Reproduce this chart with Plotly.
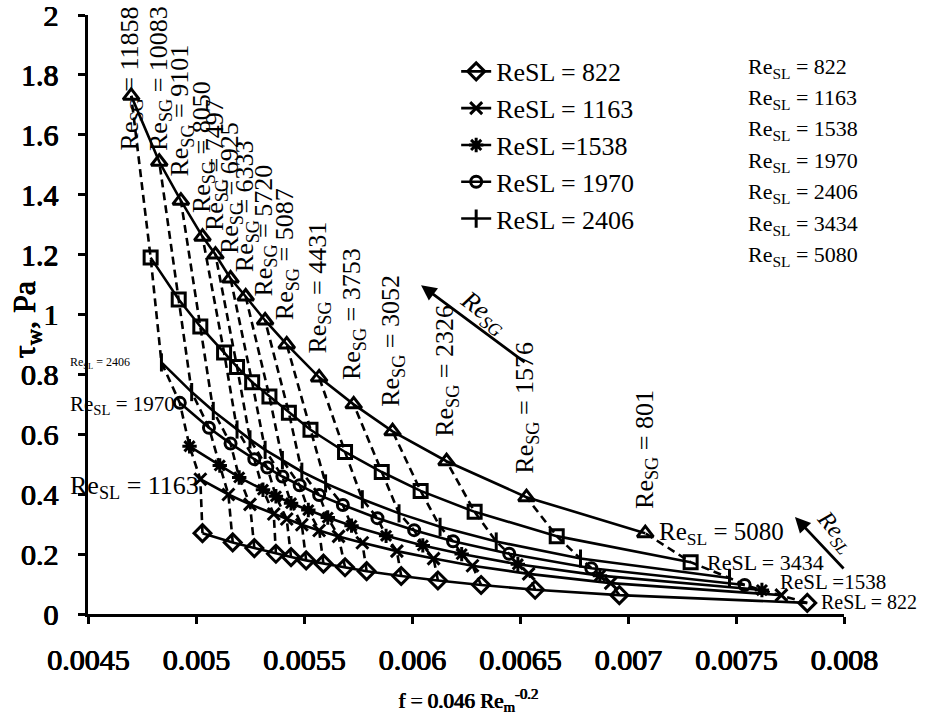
import plotly.graph_objects as go

# ---------------- data ----------------
resg = [11858, 10083, 9101, 8050, 7497, 6925, 6333, 5720, 5087, 4431, 3753, 3052, 2326, 1576, 801]

f_822 = [0.00503, 0.00517, 0.00527, 0.00537, 0.00544, 0.00551, 0.00559, 0.00569, 0.00579, 0.00595, 0.00612, 0.00632, 0.00657, 0.00696, 0.00783]
t_822 = [0.27, 0.239, 0.220, 0.201, 0.190, 0.179, 0.168, 0.156, 0.143, 0.127, 0.112, 0.097, 0.081, 0.063, 0.037]

f_1163 = [0.00502, 0.00515, 0.00525, 0.00536, 0.00542, 0.00549, 0.00557, 0.00566, 0.00577, 0.00593, 0.00610, 0.00628, 0.00654, 0.00692, 0.00771]
t_1163 = [0.45, 0.399, 0.366, 0.334, 0.317, 0.298, 0.279, 0.259, 0.238, 0.210, 0.185, 0.161, 0.134, 0.103, 0.063]

f_1538 = [0.00497, 0.00511, 0.00520, 0.00531, 0.00537, 0.00544, 0.00552, 0.00561, 0.00572, 0.00588, 0.00605, 0.00623, 0.00649, 0.00687, 0.00762]
t_1538 = [0.56, 0.496, 0.456, 0.415, 0.393, 0.370, 0.347, 0.322, 0.295, 0.261, 0.229, 0.200, 0.166, 0.128, 0.080]

f_1970 = [0.004925, 0.00506, 0.00516, 0.00527, 0.00533, 0.00540, 0.00548, 0.00557, 0.00568, 0.00584, 0.00601, 0.00619, 0.00645, 0.00683, 0.00754]
t_1970 = [0.705, 0.622, 0.569, 0.517, 0.489, 0.459, 0.430, 0.397, 0.364, 0.320, 0.280, 0.243, 0.201, 0.153, 0.097]

f_2406 = [0.00484, 0.00498, 0.00508, 0.00519, 0.00525, 0.00532, 0.00540, 0.00549, 0.00560, 0.00577, 0.00594, 0.00613, 0.00639, 0.00678, 0.00747]
t_2406 = [0.84, 0.741, 0.678, 0.616, 0.583, 0.548, 0.514, 0.475, 0.436, 0.383, 0.336, 0.291, 0.242, 0.185, 0.120]

f_3434 = [0.00479, 0.00492, 0.00502, 0.00513, 0.00519, 0.00526, 0.00534, 0.00543, 0.00553, 0.00569, 0.00586, 0.00604, 0.00629, 0.00667, 0.00729]
t_3434 = [1.19, 1.050, 0.960, 0.873, 0.825, 0.774, 0.726, 0.672, 0.615, 0.541, 0.474, 0.411, 0.341, 0.260, 0.173]

f_5080 = [0.00470, 0.00483, 0.00493, 0.00503, 0.00509, 0.00516, 0.00523, 0.00532, 0.00542, 0.00557, 0.00573, 0.00591, 0.00616, 0.00653, 0.00708]
t_5080 = [1.73, 1.51, 1.38, 1.26, 1.20, 1.12, 1.06, 0.98, 0.90, 0.79, 0.70, 0.61, 0.51, 0.39, 0.27]

x_ticks = [0.0045, 0.005, 0.0055, 0.006, 0.0065, 0.007, 0.0075, 0.008]
x_tick_text = ["0.0045", "0.005", "0.0055", "0.006", "0.0065", "0.007", "0.0075", "0.008"]
y_ticks = [0, 0.2, 0.4, 0.6, 0.8, 1, 1.2, 1.4, 1.6, 1.8, 2]
y_tick_text = ["0", "0.2", "0.4", "0.6", "0.8", "1", "1.2", "1.4", "1.6", "1.8", "2"]

right_list = ["822", "1163", "1538", "1970", "2406", "3434", "5080"]

curves = [
    ("ReSL = 822", f_822, t_822, "diamond-open", 13, True),
    ("ReSL = 1163", f_1163, t_1163, "x-thin-open", 12, True),
    ("ReSL =1538", f_1538, t_1538, "asterisk-open", 12, True),
    ("ReSL = 1970", f_1970, t_1970, "circle-open", 11, True),
    ("ReSL = 2406", f_2406, t_2406, "line-ns-open", 13, True),
    ("ReSL = 3434", f_3434, t_3434, "square-open", 13, False),
    ("ReSL = 5080", f_5080, t_5080, "triangle-up-open", 14, False),
]

SERIF = "Liberation Serif"
# heavier strokes for the bold Times-like texts
BOLD_SHADOW = "0.5px 0px 0px black, 1px 0px 0px black, 0.5px 0.4px 0px black"

fig = go.Figure()

# dashed constant-ReSG lines
for i, g in enumerate(resg):
    fig.add_trace(go.Scatter(
        x=[c[1][i] for c in curves], y=[c[2][i] for c in curves],
        mode="lines", line=dict(color="black", width=2.6, dash="8px,5px"),
        showlegend=False, hoverinfo="skip"))

for name, fx, ty, sym, sz, leg in curves:
    fig.add_trace(go.Scatter(
        x=fx, y=ty, mode="lines+markers", name=name, showlegend=leg,
        line=dict(color="black", width=2.6),
        marker=dict(symbol=sym, size=sz, color="black", line=dict(color="black", width=3)),
        cliponaxis=False))

ann = []
# ReSG labels above the ReSL = 5080 points (the two top ones pushed inside the chart)
for i, g in enumerate(resg):
    a = dict(x=f_5080[i], y=t_5080[i], xref="x", yref="y",
             text=f"Re<sub>SG</sub> = {g}", textangle=-90, showarrow=False,
             xanchor="center", yanchor="bottom", yshift=22,
             font=dict(family=SERIF, size=26, color="black"))
    if i < 2:
        a.update(yref="paper", y=1.018, yanchor="top", yshift=0)
    ann.append(a)

# labels at curve ends
ann.append(dict(x=f_5080[-1], y=t_5080[-1], xref="x", yref="y", text="Re<sub>SL</sub> = 5080",
                showarrow=False, xanchor="left", yanchor="middle", xshift=12,
                font=dict(family=SERIF, size=25, color="black")))
ann.append(dict(x=f_3434[-1], y=t_3434[-1], xref="x", yref="y", text="ReSL = 3434",
                showarrow=False, xanchor="left", yanchor="middle", xshift=14,
                font=dict(family=SERIF, size=22, color="black")))
ann.append(dict(x=f_1538[-1], y=t_1538[-1], xref="x", yref="y", text="ReSL =1538",
                showarrow=False, xanchor="left", yanchor="middle", xshift=16, yshift=8,
                font=dict(family=SERIF, size=21, color="black")))
ann.append(dict(x=f_822[-1], y=t_822[-1], xref="x", yref="y", text="ReSL = 822",
                showarrow=False, xanchor="left", yanchor="middle", xshift=12, yshift=1,
                font=dict(family=SERIF, size=20, color="black")))

# left labels (outside the plot, left aligned)
ann.append(dict(x=-0.026, y=0.419, xref="paper", yref="paper", text="Re<sub>SL</sub> = 2406",
                showarrow=False, xanchor="left", yanchor="middle",
                font=dict(family=SERIF, size=12, color="black")))
ann.append(dict(x=-0.026, y=0.349, xref="paper", yref="paper", text="Re<sub>SL</sub> = 1970",
                showarrow=False, xanchor="left", yanchor="middle",
                font=dict(family=SERIF, size=21, color="black")))
ann.append(dict(x=-0.026, y=0.212, xref="paper", yref="paper", text="Re<sub>SL</sub> = 1163",
                showarrow=False, xanchor="left", yanchor="middle",
                font=dict(family=SERIF, size=26, color="black")))

# right list
for k, v in enumerate(right_list):
    ann.append(dict(x=0.871, y=0.912 - k * 0.0524, xref="paper", yref="paper",
                    text=f"Re<sub>SL</sub> = {v}", showarrow=False, xanchor="left", yanchor="middle",
                    font=dict(family=SERIF, size=22, color="black")))

# arrows
ann.append(dict(x=0.006042, y=1.098, xref="x", yref="y", ax=105, ay=78, text="",
                showarrow=True, arrowhead=2, arrowsize=1.1, arrowwidth=2.8, arrowcolor="black"))
ann.append(dict(x=0.006333, y=1.005, xref="x", yref="y", text="<i>Re<sub>SG</sub></i>", textangle=37,
                showarrow=False, xanchor="center", yanchor="middle",
                font=dict(family=SERIF, size=26, color="black")))
ann.append(dict(x=0.007773, y=0.324, xref="x", yref="y", ax=50, ay=53, text="",
                showarrow=True, arrowhead=2, arrowsize=1.1, arrowwidth=2.8, arrowcolor="black"))
ann.append(dict(x=0.988, y=0.137, xref="paper", yref="paper", text="<i>Re<sub>SL</sub></i>", textangle=50,
                showarrow=False, xanchor="center", yanchor="middle",
                font=dict(family=SERIF, size=24, color="black")))

# axis titles
ann.append(dict(x=-0.081, y=0.491, xref="paper", yref="paper", text="τ<sub>w</sub>, Pa",
                textangle=-90, showarrow=False, xanchor="center", yanchor="middle",
                font=dict(family=SERIF, size=32, color="black", shadow=BOLD_SHADOW)))
ann.append(dict(x=0.502, y=-0.144, xref="paper", yref="paper",
                text="f = 0.046 Re<sub>m</sub><sup>-0.2</sup>",
                showarrow=False, xanchor="center", yanchor="middle",
                font=dict(family=SERIF, size=21, color="black",
                          shadow="0.5px 0px 0px black, 0.9px 0px 0px black")))

fig.update_layout(
    width=931, height=724, paper_bgcolor="white", plot_bgcolor="white",
    margin=dict(l=88, r=87, t=15, b=110, autoexpand=False),
    showlegend=True,
    legend=dict(x=0.487, y=0.945, xanchor="left", yanchor="top", bgcolor="rgba(0,0,0,0)",
                font=dict(family=SERIF, size=26, color="black"), tracegroupgap=0),
    annotations=ann,
    font=dict(family=SERIF, color="black"),
)
fig.update_xaxes(range=[0.0045, 0.008], tickvals=x_ticks, ticktext=x_tick_text, automargin=False,
                 showgrid=False, zeroline=False, showline=True, linecolor="black", linewidth=3,
                 ticks="outside", ticklen=7, tickwidth=3, tickcolor="black", tickangle=0,
                 ticklabeloverflow="allow",
                 tickfont=dict(family=SERIF, size=30, color="black", shadow=BOLD_SHADOW),
                 ticklabelstandoff=10)
fig.update_yaxes(range=[0, 2], tickvals=y_ticks, ticktext=y_tick_text, automargin=False,
                 showgrid=False, zeroline=False, showline=True, linecolor="black", linewidth=3,
                 ticks="outside", ticklen=7, tickwidth=3, tickcolor="black",
                 ticklabeloverflow="allow",
                 tickfont=dict(family=SERIF, size=30, color="black", shadow=BOLD_SHADOW),
                 ticklabelstandoff=14)

fig.write_html("out.html", config={"displayModeBar": False},
               post_script="document.body.style.margin='0px';")
